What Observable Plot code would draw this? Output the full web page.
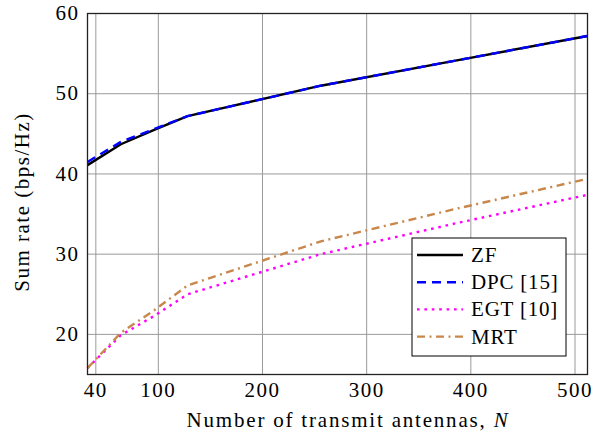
<!DOCTYPE html>
<html>
<head>
<meta charset="utf-8">
<script src="https://cdn.jsdelivr.net/npm/d3@7"></script>
<script src="https://cdn.jsdelivr.net/npm/@observablehq/plot@0.6"></script>
<style>
  html, body { margin: 0; padding: 0; background: white; }
  svg { display: block; }
</style>
</head>
<body>
<div id="chart"></div>
<script>
const antennas = [32, 64, 96, 128, 256, 384, 512];
const zfRate  = [41.1, 43.7, 45.5, 47.2, 51.0, 54.1, 57.2];
const dpcRate = [41.5, 44.0, 45.6, 47.2, 51.0, 54.1, 57.2];
const egtRate = [15.8, 19.9, 22.3, 25.0, 30.0, 33.8, 37.4];
const mrtRate = [15.8, 20.2, 23.0, 26.1, 31.6, 35.6, 39.4];
const seriesNames = ["ZF", "DPC [15]", "EGT [10]", "MRT"];
const xTicks = [40, 100, 200, 300, 400, 500];
const yTicks = [20, 30, 40, 50, 60];

const styles = {
  "ZF":       {stroke: "black",   dash: null},
  "DPC [15]": {stroke: "#0000ff", dash: "9 6"},
  "EGT [10]": {stroke: "#ff00ff", dash: "2.6 4.8"},
  "MRT":      {stroke: "#c8874b", dash: "8 4.5 2 4.5"}
};
const values = [zfRate, dpcRate, egtRate, mrtRate];
const rows = (i) => antennas.map((n, k) => ({n, v: values[i][k]}));

const FF = "Liberation Serif";

const lineMarks = seriesNames.map((name, i) =>
  Plot.line(rows(i), {
    x: "n", y: "v",
    stroke: styles[name].stroke,
    strokeWidth: 2.4,
    strokeDasharray: styles[name].dash,
    strokeLinejoin: "round",
    strokeLinecap: "butt"
  })
);

const plot = Plot.plot({
  width: 601,
  height: 434,
  marginLeft: 87,
  marginRight: 14,
  marginTop: 13,
  marginBottom: 60,
  style: {background: "white", color: "black"},
  x: {domain: [32, 512], label: null},
  y: {domain: [15, 60], label: null},
  marks: [
    Plot.gridX(xTicks, {stroke: "#9a9a9a", strokeOpacity: 1, strokeWidth: 1}),
    Plot.gridY(yTicks, {stroke: "#9a9a9a", strokeOpacity: 1, strokeWidth: 1}),
    Plot.axisX(xTicks, {tickSize: 0, tickPadding: 8, fontSize: 21, fontFamily: FF, label: null}),
    Plot.axisY(yTicks, {tickSize: 0, tickPadding: 8, fontSize: 21, fontFamily: FF, label: null}),
    ...lineMarks,
    Plot.frame({stroke: "#222", strokeWidth: 1.3})
  ]
});

const svg = d3.select(plot);
svg.attr("font-family", FF);

// tick label spacing
svg.selectAll("g[aria-label='x-axis tick label'] text, g[aria-label='y-axis tick label'] text")
  .attr("letter-spacing", 1.5);

// X axis title
const xt = svg.append("text")
  .attr("x", 348).attr("y", 427)
  .attr("text-anchor", "middle")
  .attr("font-family", FF)
  .attr("letter-spacing", 1.8)
  .attr("font-size", 21).attr("fill", "black");
xt.append("tspan").text("Number of transmit antennas, ");
xt.append("tspan").attr("font-style", "italic").text("N");

// Y axis title
svg.append("text")
  .attr("transform", "translate(29,202) rotate(-90)")
  .attr("text-anchor", "middle")
  .attr("font-family", FF)
  .attr("letter-spacing", 1.5)
  .attr("font-size", 21).attr("fill", "black")
  .text("Sum rate (bps/Hz)");

// Legend
const lg = svg.append("g");
lg.append("rect")
  .attr("x", 412).attr("y", 238).attr("width", 154).attr("height", 118)
  .attr("fill", "white").attr("stroke", "black").attr("stroke-width", 1);
seriesNames.forEach((name, i) => {
  const y = 255 + i * 27.2;
  lg.append("line")
    .attr("x1", 417).attr("x2", 463).attr("y1", y).attr("y2", y)
    .attr("stroke", styles[name].stroke).attr("stroke-width", 2.4)
    .attr("stroke-dasharray", styles[name].dash);
  lg.append("text")
    .attr("x", 471).attr("y", y + 7)
    .attr("text-anchor", "start")
    .attr("font-family", FF)
    .attr("letter-spacing", 0.8)
    .attr("font-size", 21).attr("fill", "black")
    .text(name);
});

document.getElementById("chart").appendChild(plot);
</script>
</body>
</html>
